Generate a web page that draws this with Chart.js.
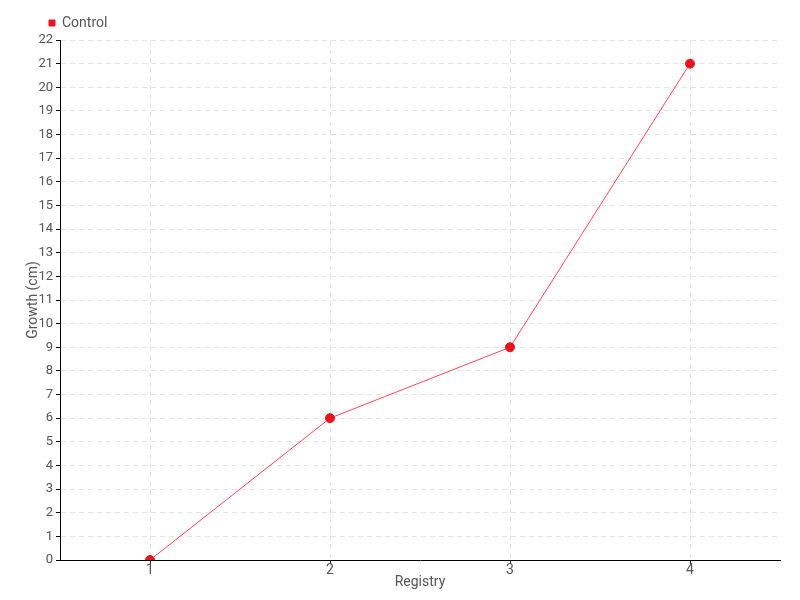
<!DOCTYPE html>
<html>
<head>
<meta charset="utf-8">
<script src="https://cdn.jsdelivr.net/npm/chart.js@4"></script>
<style>
  html, body { margin: 0; padding: 0; background: #fff; }
  #wrap { width: 800px; height: 600px; }
</style>
</head>
<body>
<div id="wrap"><canvas id="myChart" width="800" height="600"></canvas></div>
<script>
// chart data
const registry = ['1', '2', '3', '4'];
const control = [0, 6, 9, 21];
const yMin = 0;
const yMax = 22;

const textColor = '#555';
const fontFamily = '"Roboto", "DejaVu Sans Condensed", sans-serif';

// move the legend to sit above the plot's left edge
const legendShift = {
    id: 'legendShift',
    afterLayout(chart) {
        chart.legend.left = 39;
    }
};

var ctx = document.getElementById('myChart').getContext('2d');
var myChart = new Chart(ctx, {
    type: 'line',
    data: {
        labels: registry,
        datasets: [{
            label: 'Control',
            data: control,
            borderColor: 'rgba(255, 40, 55, 0.85)',
            borderWidth: 1,
            backgroundColor: '#e8151f',
            pointBackgroundColor: '#e8151f',
            pointBorderColor: '#e8151f',
            pointRadius: 4.5,
            pointBorderWidth: 1,
            pointStyle: 'circle',
            tension: 0,
            fill: false
        }]
    },
    options: {
        responsive: false,
        animation: false,
        layout: { padding: { left: 0, right: 20, top: 6, bottom: 0 } },
        plugins: {
            legend: {
                display: true,
                position: 'top',
                align: 'start',
                labels: {
                    usePointStyle: true,
                    pointStyle: 'rect',
                    boxWidth: 6,
                    boxHeight: 6,
                    padding: 10,
                    color: textColor,
                    font: { family: fontFamily, size: 14 }
                }
            },
            tooltip: { enabled: false }
        },
        scales: {
            x: {
                offset: true,
                afterFit(scale) { scale.height = 40; },
                grid: {
                    display: true,
                    offset: false,
                    color: '#e4e4e4',
                    tickColor: '#222',
                    tickLength: 4,
                    tickBorderDash: []
                },
                border: { display: true, color: '#000', width: 1, dash: [5, 4] },
                ticks: { color: textColor, padding: -2, font: { family: fontFamily, size: 14 } },
                title: {
                    display: true,
                    text: 'Registry',
                    color: textColor,
                    padding: { top: 0, bottom: 9 },
                    font: { family: fontFamily, size: 14 }
                }
            },
            y: {
                min: yMin,
                max: yMax,
                afterFit(scale) { scale.width = 60; },
                grid: {
                    color: '#e4e4e4',
                    tickColor: '#000',
                    tickLength: 4,
                    tickBorderDash: []
                },
                border: { display: true, color: '#000', width: 1, dash: [5, 4] },
                ticks: {
                    stepSize: 1,
                    autoSkip: false,
                    color: textColor,
                    padding: 3,
                    font: { family: fontFamily, size: 13 }
                },
                title: {
                    display: true,
                    text: 'Growth (cm)',
                    color: textColor,
                    padding: { top: 25, bottom: 0 },
                    font: { family: fontFamily, size: 14 }
                }
            }
        }
    },
    plugins: [legendShift]
});
</script>
</body>
</html>
